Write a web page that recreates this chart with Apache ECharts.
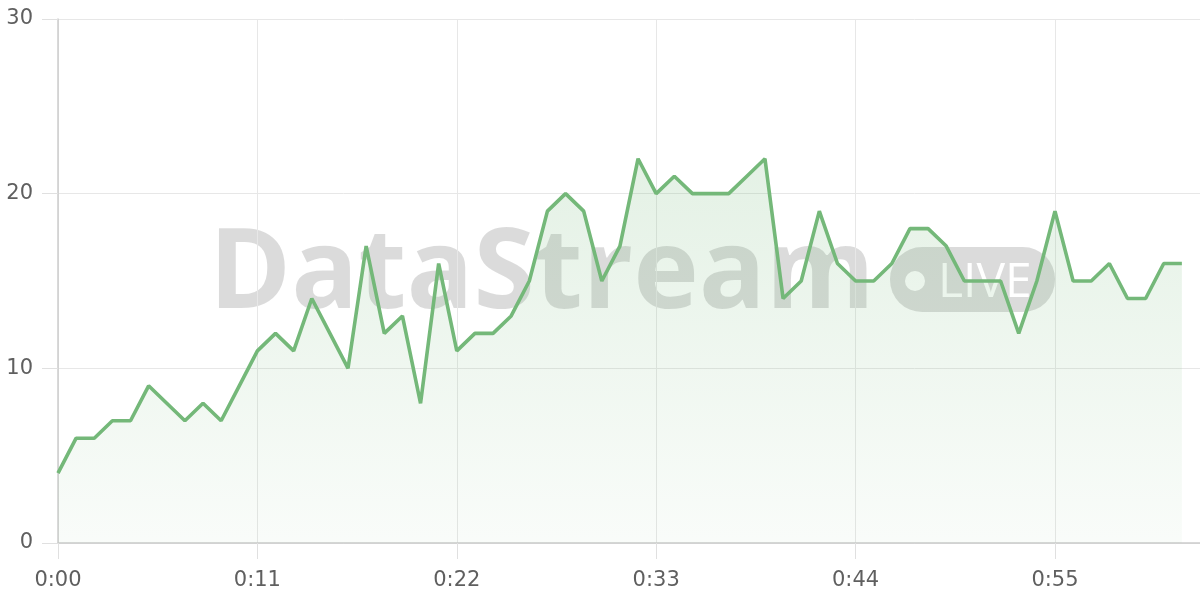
<!DOCTYPE html>
<html>
<head>
<meta charset="utf-8">
<script src="https://cdn.jsdelivr.net/npm/echarts@6/dist/echarts.min.js"></script>
<style>html,body{margin:0;padding:0;background:#fff}#chart{width:1200px;height:600px}</style>
</head>
<body>
<div id="chart"></div>
<script>
const timeLabels = [
  "0:00","0:01","0:02","0:03","0:04","0:05","0:06","0:07","0:08","0:09",
  "0:10","0:11","0:12","0:13","0:14","0:15","0:16","0:17","0:18","0:19",
  "0:20","0:21","0:22","0:23","0:24","0:25","0:26","0:27","0:28","0:29",
  "0:30","0:31","0:32","0:33","0:34","0:35","0:36","0:37","0:38","0:39",
  "0:40","0:41","0:42","0:43","0:44","0:45","0:46","0:47","0:48","0:49",
  "0:50","0:51","0:52","0:53","0:54","0:55","0:56","0:57","0:58","0:59",
  "1:00","1:01","1:02","1:03"
];
const streamValues = [
  4, 6, 6, 7, 7, 9, 8, 7, 8, 7,
  9, 11, 12, 11, 14, 12, 10, 17, 12, 13,
  8, 16, 11, 12, 12, 13, 15, 19, 20, 19,
  15, 17, 22, 20, 21, 20, 20, 20, 21, 22,
  14, 15, 19, 16, 15, 15, 16, 18, 18, 17,
  15, 15, 15, 12, 15, 19, 15, 15, 16, 14,
  14, 16, 16
];
const yTicks = [0, 10, 20, 30];
const watermarkText = "DataStream";
const badgeText = "LIVE";

const chart = echarts.init(document.getElementById('chart'), null, {renderer: 'canvas'});
const lineColor = '#74b879';
const gridColor = '#e7e7e7';
const axisColor = '#cccccc';
const labelColor = '#5f5f5f';
const labelFont = 'DejaVu Sans';

chart.setOption({
  animation: false,
  backgroundColor: '#ffffff',
  grid: {left: 58, right: 0, top: 19, bottom: 57, containLabel: false},
  graphic: [
    {
      type: 'group', z: -10, silent: true,
      children: [
        {type: 'text', x: 209, y: 276, style: {text: watermarkText, font: 'bold 111px "Open Sans"', fill: 'rgba(0,0,0,0.14)', textAlign: 'left', textVerticalAlign: 'middle'}},
        {type: 'rect', shape: {x: 890, y: 247, width: 165, height: 65, r: 32}, style: {fill: 'rgba(0,0,0,0.14)'}},
        {type: 'circle', shape: {cx: 915, cy: 281, r: 10}, style: {fill: '#ffffff'}},
        {type: 'text', x: 938, y: 283, style: {text: badgeText, font: 'normal 48px "Open Sans"', fill: '#ffffff', textAlign: 'left', textVerticalAlign: 'middle'}}
      ]
    }
  ],
  xAxis: {
    type: 'category',
    data: timeLabels,
    boundaryGap: false,
    axisLine: {show: true, lineStyle: {color: axisColor, width: 1.5}},
    axisTick: {show: true, interval: 10, length: 16, lineStyle: {color: '#e0e0e0', width: 1}},
    axisLabel: {interval: 10, color: labelColor, fontSize: 21, fontFamily: labelFont, margin: 27},
    splitLine: {show: true, interval: 10, lineStyle: {color: gridColor, width: 1}}
  },
  yAxis: {
    type: 'value',
    min: yTicks[0], max: yTicks[yTicks.length - 1], interval: 10,
    axisLine: {show: true, lineStyle: {color: axisColor, width: 1.5}},
    axisTick: {show: true, length: 16, lineStyle: {color: '#e0e0e0', width: 1}},
    axisLabel: {color: labelColor, fontSize: 21, fontFamily: labelFont, margin: 25},
    splitLine: {show: true, lineStyle: {color: gridColor, width: 1}}
  },
  series: [{
    type: 'line',
    data: streamValues,
    showSymbol: false,
    symbol: 'none',
    smooth: false,
    z: 5,
    lineStyle: {color: lineColor, width: 3.6},
    areaStyle: {
      color: new echarts.graphic.LinearGradient(0, 0, 0, 1, [
        {offset: 0, color: 'rgba(116,184,121,0.28)'},
        {offset: 1, color: 'rgba(116,184,121,0.06)'}
      ])
    }
  }]
});
</script>
</body>
</html>
